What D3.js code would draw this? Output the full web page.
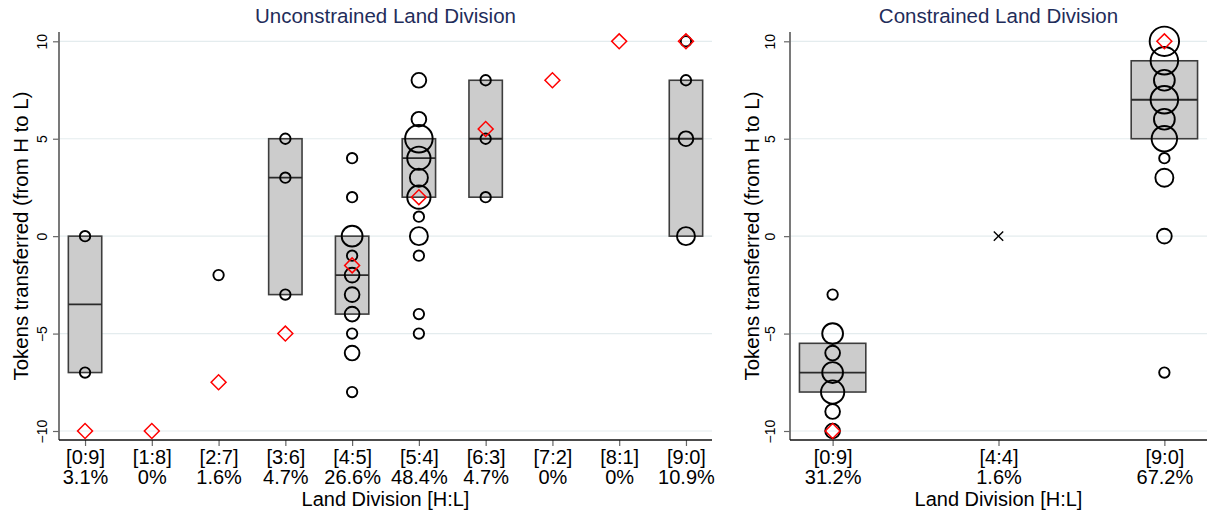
<!DOCTYPE html>
<html>
<head>
<meta charset="utf-8">
<script src="https://cdn.jsdelivr.net/npm/d3@7"></script>
<style>
  body { margin: 0; background: #ffffff; }
  svg { display: block; }
  text { font-family: "Liberation Sans", Arial, Helvetica, sans-serif; }
</style>
</head>
<body>
<svg id="chart" width="1208" height="513"></svg>
<script>
// ---- Unconstrained land division ----
const unconCategories = ["[0:9]", "[1:8]", "[2:7]", "[3:6]", "[4:5]", "[5:4]", "[6:3]", "[7:2]", "[8:1]", "[9:0]"];
const unconShares = ["3.1%", "0%", "1.6%", "4.7%", "26.6%", "48.4%", "4.7%", "0%", "0%", "10.9%"];
// observed transfers: [division, tokens, number of participants]
const unconObs = [
  ["[0:9]", 0, 1], ["[0:9]", -7, 1],
  ["[2:7]", -2, 1],
  ["[3:6]", 5, 1], ["[3:6]", 3, 1], ["[3:6]", -3, 1],
  ["[4:5]", 4, 1], ["[4:5]", 2, 1], ["[4:5]", 0, 4], ["[4:5]", -1, 1], ["[4:5]", -2, 2],
  ["[4:5]", -3, 2], ["[4:5]", -4, 2], ["[4:5]", -5, 1], ["[4:5]", -6, 2], ["[4:5]", -8, 1],
  ["[5:4]", 8, 2], ["[5:4]", 6, 2], ["[5:4]", 5, 7], ["[5:4]", 4, 5], ["[5:4]", 3, 3],
  ["[5:4]", 2, 5], ["[5:4]", 1, 1], ["[5:4]", 0, 3], ["[5:4]", -1, 1], ["[5:4]", -4, 1], ["[5:4]", -5, 1],
  ["[6:3]", 8, 1], ["[6:3]", 5, 1], ["[6:3]", 2, 1],
  ["[9:0]", 10, 1], ["[9:0]", 8, 1], ["[9:0]", 5, 2], ["[9:0]", 0, 3]
];
// quartile boxes: [division, lower quartile, median, upper quartile]
const unconBoxes = [
  ["[0:9]", -7, -3.5, 0],
  ["[3:6]", -3, 3, 5],
  ["[4:5]", -4, -2, 0],
  ["[5:4]", 2, 4, 5],
  ["[6:3]", 2, 5, 8],
  ["[9:0]", 0, 5, 8]
];
// reference transfer per division (diamonds)
const unconDiamonds = [
  ["[0:9]", -10], ["[1:8]", -10], ["[2:7]", -7.5], ["[3:6]", -5], ["[4:5]", -1.5],
  ["[5:4]", 2], ["[6:3]", 5.5], ["[7:2]", 8], ["[8:1]", 10], ["[9:0]", 10]
];
const unconCrosses = [];

// ---- Constrained land division ----
const conCategories = ["[0:9]", "[4:4]", "[9:0]"];
const conShares = ["31.2%", "1.6%", "67.2%"];
const conObs = [
  ["[0:9]", -3, 1], ["[0:9]", -5, 4], ["[0:9]", -6, 2], ["[0:9]", -7, 4],
  ["[0:9]", -8, 5], ["[0:9]", -9, 2], ["[0:9]", -10, 2],
  ["[9:0]", 10, 8], ["[9:0]", 9, 7], ["[9:0]", 8, 4], ["[9:0]", 7, 7], ["[9:0]", 6, 4],
  ["[9:0]", 5, 6], ["[9:0]", 4, 1], ["[9:0]", 3, 3], ["[9:0]", 0, 2], ["[9:0]", -7, 1]
];
const conBoxes = [
  ["[0:9]", -8, -7, -5.5],
  ["[9:0]", 5, 7, 9]
];
const conDiamonds = [["[0:9]", -10], ["[9:0]", 10]];
const conCrosses = [["[4:4]", 0]];

const yTicks = [-10, -5, 0, 5, 10];

const svg = d3.select("#chart");
const plotTop = 32, plotBottom = 440;
const y = d3.scaleLinear().domain([-10, 10]).range([431, 41.3]);
const radius = d3.scaleSqrt().domain([0, 1]).range([0, 5.2]);

function drawPanel(p) {
  const g = svg.append("g");
  const x = d3.scalePoint().domain(p.categories).range([p.left, p.right]).padding(p.padding);
  const boxW = x.step() * p.boxFrac;

  // title
  g.append("text")
    .attr("x", (p.left + p.right) / 2).attr("y", 23)
    .attr("text-anchor", "middle")
    .attr("font-size", 20.5).attr("fill", "#1f2d5a")
    .text(p.title);

  // gridlines
  g.append("g").selectAll("line").data(yTicks).join("line")
    .attr("x1", p.left).attr("x2", p.right)
    .attr("y1", d => y(d)).attr("y2", d => y(d))
    .attr("stroke", "#e4ecee").attr("stroke-width", 1.2);

  // y axis
  const ya = g.append("g").attr("transform", `translate(${p.left},0)`)
    .call(d3.axisLeft(y).tickValues(yTicks).tickSize(6).tickSizeOuter(0));
  ya.select(".domain").remove();
  ya.selectAll(".tick line").attr("stroke", "#666").attr("stroke-width", 1.2);
  ya.selectAll(".tick text")
    .attr("transform", "rotate(-90)")
    .attr("x", 0).attr("y", -p.tickLabelOffset).attr("dy", null)
    .attr("text-anchor", "middle")
    .attr("font-size", 14).attr("fill", "#000");
  g.append("line")
    .attr("x1", p.left).attr("x2", p.left)
    .attr("y1", plotTop).attr("y2", plotBottom)
    .attr("stroke", "#6b6b6b").attr("stroke-width", 1.8);

  // y axis title
  g.append("text")
    .attr("transform", `translate(${p.yTitleX},${(plotTop + plotBottom) / 2}) rotate(-90)`)
    .attr("text-anchor", "middle").attr("dy", "0.35em")
    .attr("font-size", 20.4).attr("fill", "#000")
    .text("Tokens transferred (from H to L)");

  // x axis
  const xa = g.append("g").attr("transform", `translate(0,${plotBottom})`)
    .call(d3.axisBottom(x).tickSize(6).tickSizeOuter(0).tickFormat(""));
  xa.select(".domain").remove();
  xa.selectAll(".tick line").attr("stroke", "#666").attr("stroke-width", 1.2);
  xa.selectAll(".tick").each(function (d, i) {
    const t = d3.select(this).append("text")
      .attr("text-anchor", "middle").attr("font-size", 20).attr("fill", "#000");
    t.append("tspan").attr("x", 0).attr("y", 24).text(d);
    t.append("tspan").attr("x", 0).attr("y", 44).text(p.shares[i]);
  });
  g.append("line")
    .attr("x1", p.left).attr("x2", p.right)
    .attr("y1", plotBottom).attr("y2", plotBottom)
    .attr("stroke", "#111").attr("stroke-width", 1.6);

  g.append("text")
    .attr("x", (p.left + p.right) / 2).attr("y", 506)
    .attr("text-anchor", "middle")
    .attr("font-size", 20).attr("fill", "#000")
    .text("Land Division [H:L]");

  // quartile boxes
  g.append("g").selectAll("rect").data(p.boxes).join("rect")
    .attr("x", d => x(d[0]) - boxW / 2)
    .attr("width", boxW)
    .attr("y", d => y(d[3]))
    .attr("height", d => y(d[1]) - y(d[3]))
    .attr("fill", "#cccccc").attr("stroke", "#3d3d3d").attr("stroke-width", 1.6);
  g.append("g").selectAll("line").data(p.boxes).join("line")
    .attr("x1", d => x(d[0]) - boxW / 2).attr("x2", d => x(d[0]) + boxW / 2)
    .attr("y1", d => y(d[2])).attr("y2", d => y(d[2]))
    .attr("stroke", "#2a2a2a").attr("stroke-width", 1.8);

  // observations, sized by number of participants
  g.append("g").selectAll("circle").data(p.obs).join("circle")
    .attr("cx", d => x(d[0])).attr("cy", d => y(d[1]))
    .attr("r", d => radius(d[2]))
    .attr("fill", "none").attr("stroke", "#000").attr("stroke-width", 1.9);

  // single-observation crosses
  const cs = 4.7;
  const cg = g.append("g").selectAll("g").data(p.crosses).join("g")
    .attr("transform", d => `translate(${x(d[0])},${y(d[1])})`);
  cg.append("line").attr("x1", -cs).attr("y1", -cs).attr("x2", cs).attr("y2", cs)
    .attr("stroke", "#000").attr("stroke-width", 1.4);
  cg.append("line").attr("x1", -cs).attr("y1", cs).attr("x2", cs).attr("y2", -cs)
    .attr("stroke", "#000").attr("stroke-width", 1.4);

  // reference diamonds
  g.append("g").selectAll("path").data(p.diamonds).join("path")
    .attr("d", d3.symbol(d3.symbolSquare, 112)())
    .attr("transform", d => `translate(${x(d[0])},${y(d[1])}) rotate(45)`)
    .attr("fill", "none").attr("stroke", "#ff0000").attr("stroke-width", 1.5);
}

drawPanel({
  title: "Unconstrained Land Division",
  categories: unconCategories, shares: unconShares,
  obs: unconObs, boxes: unconBoxes, diamonds: unconDiamonds, crosses: unconCrosses,
  left: 59, right: 712, padding: 0.39, boxFrac: 0.5,
  tickLabelOffset: 12, yTitleX: 21
});
drawPanel({
  title: "Constrained Land Division",
  categories: conCategories, shares: conShares,
  obs: conObs, boxes: conBoxes, diamonds: conDiamonds, crosses: conCrosses,
  left: 790, right: 1207, padding: 0.257, boxFrac: 0.4,
  tickLabelOffset: 15, yTitleX: 752
});
</script>
</body>
</html>
